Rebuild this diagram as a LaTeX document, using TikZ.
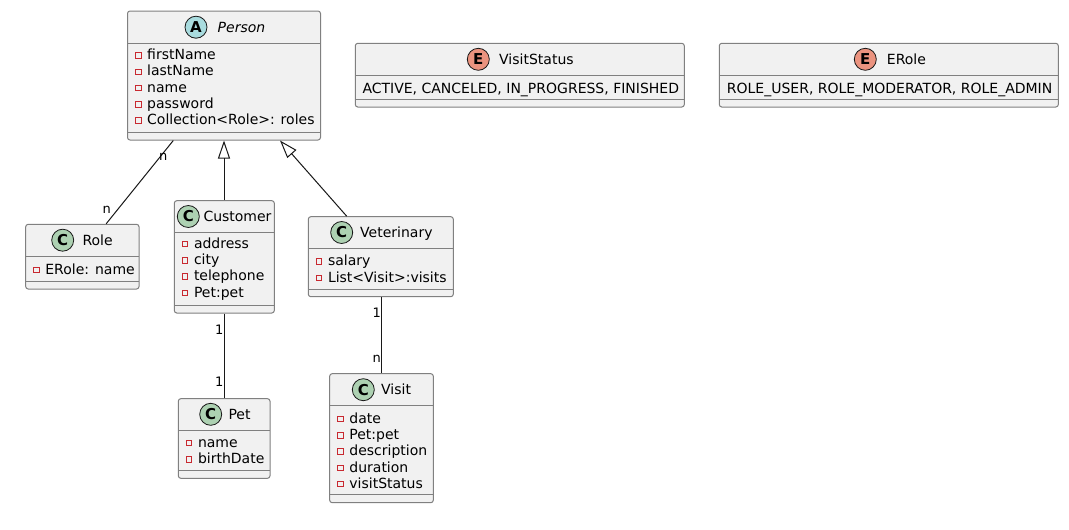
\documentclass[tikz,border=0pt]{standalone}
\usepackage{fontspec}
\setmainfont{DejaVu Sans}
\usetikzlibrary{arrows.meta, positioning, fit, calc}
\definecolor{cBox}{HTML}{F1F1F1}
\definecolor{cEdge}{HTML}{808080}
\definecolor{cLine}{HTML}{181818}
\definecolor{cAbs}{HTML}{A9DCDF}
\definecolor{cCls}{HTML}{ADD1B2}
\definecolor{cEnm}{HTML}{EB937F}
\definecolor{cPriv}{HTML}{C82930}

% box: name, left, top, right, bottom, header sep, member sep
\newcommand{\classbox}[7]{%
  \node[cls, fit={(#2,#3) (#4,#5)}] (#1) {};
  \draw[sep] (#2,#6) -- (#4,#6);
  \draw[sep] (#2,#7) -- (#4,#7);
}
% head: name, badge x, head y, letter, colour, title x, title
\newcommand{\classhead}[7]{%
  \node[badge, fill=#5] (#1-badge) at (#2,#3) {#4};
  \node[title, anchor=base west] (#1-title) at (#6,#3+5) {#7};
}
% members: name, box left, first baseline, list
\newcommand{\members}[4]{%
  \foreach \m [count=\i] in {#4} {
    \node[member, anchor=base west] (#1-m\i) at ({#2+19.5},{#3+16.25*(\i-1)}) {\m};
    \node[priv] (#1-p\i) at ($(#1-m\i.base west)+(-8.75,-4.3)$) {};
  }
}

\begin{document}
\begin{tikzpicture}[x=1pt, y=-1pt,
    cls/.style={draw=cEdge, fill=cBox, line width=1pt, rounded corners=2.5pt, inner sep=0pt},
    sep/.style={draw=cEdge, line width=1pt},
    badge/.style={circle, draw=cLine, line width=0.8pt, minimum size=22pt, inner sep=0pt,
                  font=\fontsize{15}{15}\selectfont\bfseries},
    title/.style={inner sep=0pt, font=\fontsize{14}{16}\selectfont},
    member/.style={inner sep=0pt, font=\fontsize{14}{16}\selectfont},
    priv/.style={draw=cPriv, line width=0.8pt, minimum size=5.5pt, inner sep=0pt},
    mult/.style={inner sep=0pt, font=\fontsize{13}{13}\selectfont},
    assoc/.style={draw=cLine, line width=1pt},
    isa/.style={draw=cLine, line width=1pt, -{Triangle[open, length=18pt, width=12pt]}}
  ]
  \fill[white] (0,0) rectangle (1069,530);
  \useasboundingbox (0,0) rectangle (1069,530);

  % classes
  \classbox{person}{127.5}{11}{320.5}{140}{43.3}{132}
  \classhead{person}{196}{27.2}{A}{cAbs}{217.5}{\itshape Person}
  \members{person}{127.5}{59.7}{firstName, lastName, name, password, Collection<Role>: roles}

  \classbox{role}{25.7}{224.3}{139}{289}{256}{281}
  \classhead{role}{62.7}{240.2}{C}{cCls}{82.3}{Role}
  \members{role}{25.7}{274}{ERole: name}

  \classbox{customer}{174.3}{200.7}{274.3}{313}{232.3}{305}
  \classhead{customer}{188.3}{216.5}{C}{cCls}{203.3}{Customer}
  \members{customer}{174.3}{248.3}{address, city, telephone, Pet:pet}

  \classbox{vet}{308.3}{216.7}{453.3}{296.7}{248.3}{289.3}
  \classhead{vet}{341.7}{232.5}{C}{cCls}{360}{Veterinary}
  \members{vet}{308.3}{265.8}{salary, List<Visit>:visits}

  \classbox{pet}{178.3}{398.7}{270}{478.3}{430}{470.7}
  \classhead{pet}{210.7}{414.3}{C}{cCls}{228.3}{Pet}
  \members{pet}{178.3}{447.3}{name, birthDate}

  \classbox{visit}{329.7}{373.7}{433.3}{502.7}{405.7}{494.3}
  \classhead{visit}{363.3}{389.7}{C}{cCls}{381}{Visit}
  \members{visit}{329.7}{423.3}{date, Pet:pet, description, duration, visitStatus}

  % enums
  \classbox{status}{355.3}{43.3}{684.3}{107}{75.3}{99.3}
  \classhead{status}{478.3}{59.3}{E}{cEnm}{499}{VisitStatus}
  \node[member, anchor=base west] (status-v) at (362.3,93.3) {ACTIVE, CANCELED, IN\_PROGRESS, FINISHED};

  \classbox{erole}{719.3}{43.3}{1058.3}{107}{75.3}{99.3}
  \classhead{erole}{865.3}{59.3}{E}{cEnm}{886.7}{ERole}
  \node[member, anchor=base west] (erole-v) at (726.7,93.3) {ROLE\_USER, ROLE\_MODERATOR, ROLE\_ADMIN};

  % ends off centre
  \coordinate (person-r) at ($(person.south)+(-50.7,0)$);
  \coordinate (person-v) at ($(person.south)+(56,0)$);
  \coordinate (role-in) at ($(role.north)+(23.8,0)$);
  \coordinate (vet-in) at ($(vet.north)+(-34.1,0)$);

  % associations
  \draw[assoc] (person-r) -- (role-in);
  \draw[assoc] (person.south |- customer.south) -- (person.south |- pet.north);
  \draw[assoc] (visit.north |- vet.south) -- (visit.north);

  % generalisations
  \draw[isa] (person.south |- customer.north) -- (person.south);
  \draw[isa] (vet-in) -- (person-v);

  % multiplicities
  \node[mult] (m-pr) at (163.3,156.7) {n};
  \node[mult] (m-rp) at (106.7,210) {n};
  \node[mult] (m-cp) at (219.3,330) {1};
  \node[mult] (m-pc) at (219.3,381.7) {1};
  \node[mult] (m-vv) at (376.7,312.3) {1};
  \node[mult] (m-iv) at (376.7,359) {n};
\end{tikzpicture}
\end{document}
